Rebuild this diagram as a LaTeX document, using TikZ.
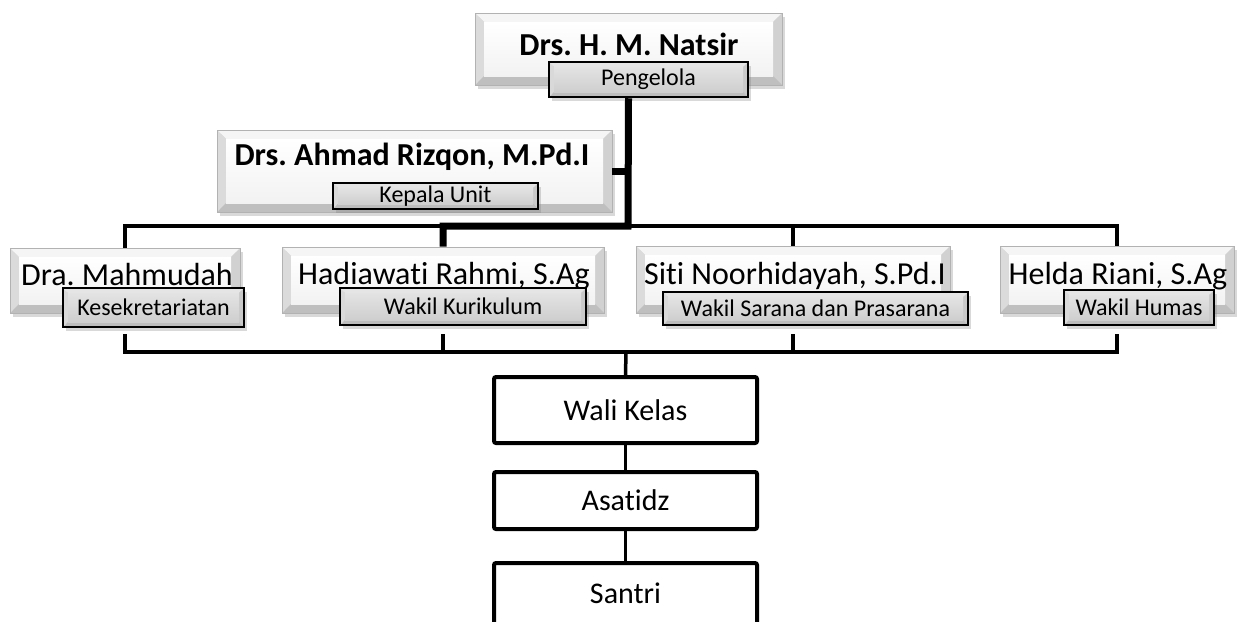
\documentclass[tikz,border=0pt]{standalone}
\usepackage{fontspec}
\setmainfont{Carlito}[Ligatures=NoCommon]
\usetikzlibrary{shadows}
\frenchspacing
\newcommand\namefont{\fontsize{32}{38}\selectfont}
\newcommand\headfont{\bfseries\fontsize{32}{38}\selectfont}
\newcommand\rolefont{\fontsize{24}{28}\selectfont}
\newcommand\stafffont{\fontsize{30}{36}\selectfont}
% bevelled faces: depth, top, left, right, bottom, inner top, inner bottom
\newcommand\bevelfaces[7]{%
  \coordinate (bnw) at (path picture bounding box.north west);
  \coordinate (bne) at (path picture bounding box.north east);
  \coordinate (bse) at (path picture bounding box.south east);
  \coordinate (bsw) at (path picture bounding box.south west);
  \coordinate (inw) at ([shift={(#1,-#1)}]bnw);
  \coordinate (ine) at ([shift={(-#1,-#1)}]bne);
  \coordinate (ise) at ([shift={(-#1,#1)}]bse);
  \coordinate (isw) at ([shift={(#1,#1)}]bsw);
  \fill[#2] (bnw) -- (bne) -- (ine) -- (inw) -- cycle;
  \fill[#3] (bnw) -- (bsw) -- (isw) -- (inw) -- cycle;
  \fill[#4] (bne) -- (bse) -- (ise) -- (ine) -- cycle;
  \fill[#5] (bsw) -- (bse) -- (ise) -- (isw) -- cycle;
  \shade[top color=#6, bottom color=#7] (inw) rectangle (ise);
}
\tikzset{
  namebox/.style={draw=gray!60, line width=0.6pt, inner sep=0pt,
    drop shadow={shadow xshift=3pt, shadow yshift=-4pt, opacity=0.3},
    path picture={\bevelfaces{9pt}{gray!8}{gray!28}{gray!36}{gray!50}{white}{gray!10}}},
  rolebox/.style={draw=black, line width=2.5pt, inner sep=0pt, font=\rolefont,
    drop shadow={shadow xshift=3pt, shadow yshift=-4pt, opacity=0.3},
    path picture={\bevelfaces{5pt}{gray!20}{gray!30}{gray!42}{gray!52}{gray!22}{gray!38}}},
  nametext/.style={anchor=base, font=\namefont, inner sep=0pt},
  headtext/.style={anchor=base, font=\headfont, inner sep=0pt},
  staffbox/.style={draw, line width=4pt, rounded corners=2pt, fill=white,
    font=\stafffont, minimum width=263pt},
  link/.style={line width=3.5pt},
  trunk/.style={line width=7pt}
}
\begin{document}
\begin{tikzpicture}[x=1pt, y=-1pt]
\useasboundingbox (0,0) rectangle (1244,621);
\clip (0,0) rectangle (1244,621);
% Pengelola
\node[namebox, minimum width=307pt, minimum height=72pt] (natsir) at (628.5,49) {};
\node[headtext] (natsirtxt) at (629,55) {Drs. H. M. Natsir};
\node[rolebox, minimum width=199pt, minimum height=35pt] (pengelola) at (648.5,79.5) {Pengelola};
% Kepala Unit
\node[namebox, minimum width=395pt, minimum height=82pt] (rizqon) at (414.5,171) {};
\node[headtext] (rizqontxt) at (412,165) {Drs. Ahmad Rizqon, M.Pd.I};
\node[rolebox, minimum width=205pt, minimum height=26pt] (kepala) at (435.5,196) {Kepala Unit};
% Wakil
\node[namebox, minimum width=230pt, minimum height=65pt] (mahmudah) at (125,280.5) {};
\node[nametext] (mahmudahtxt) at (127,285) {Dra. Mahmudah};
\node[rolebox, minimum width=181pt, minimum height=39pt] (sekretariat) at (153.5,307.5) {Kesekretariatan};
\node[namebox, minimum width=322pt, minimum height=66pt] (hadiawati) at (443,280) {};
\node[nametext] (hadiawatitxt) at (444,284) {Hadiawati Rahmi, S.Ag};
\node[rolebox, minimum width=246pt, minimum height=37pt] (kurikulum) at (463,306.5) {Wakil Kurikulum};
\node[namebox, minimum width=314pt, minimum height=67pt] (siti) at (793,279.5) {};
\node[nametext] (sititxt) at (795,284) {Siti Noorhidayah, S.Pd.I};
\node[rolebox, minimum width=305pt, minimum height=33pt] (sarana) at (815.5,308.5) {Wakil Sarana dan Prasarana};
\node[namebox, minimum width=234pt, minimum height=67pt] (helda) at (1117,279.5) {};
\node[nametext] (heldatxt) at (1118,284) {Helda Riani, S.Ag};
\node[rolebox, minimum width=150pt, minimum height=35pt] (humas) at (1139,307.5) {Wakil Humas};
% Staf
\node[staffbox, minimum height=66pt] (walikelas) at (625.5,410) {Wali Kelas};
\node[staffbox, minimum height=57pt] (asatidz) at (625.5,500.5) {Asatidz};
\node[staffbox, minimum height=80pt, text depth=20pt] (santri) at (625.5,603) {Santri};
% Connectors
\coordinate (bus) at (628,226);
\coordinate (lowbus) at (626,352);
\draw[link] (mahmudah.north) |- (bus -| helda.north) -- (helda.north);
\draw[link] (siti.north) -- (siti.north |- bus);
\draw[trunk] (pengelola.south -| natsir.center) -- (bus) -- (bus -| hadiawati.north) -- (hadiawati.north);
\draw[trunk] (rizqon.east) -- (rizqon.east -| natsir.center);
\draw[link] ([yshift=-6pt]sekretariat.south -| mahmudah.south) |- (lowbus -| helda.south) -- ([yshift=-8pt]humas.south -| helda.south);
\draw[link] ([yshift=-8pt]kurikulum.south -| hadiawati.south) -- (lowbus -| hadiawati.south);
\draw[link] ([yshift=-8pt]sarana.south -| siti.south) -- (lowbus -| siti.south);
\draw[link] (lowbus) -- (walikelas.north);
\draw[link] (walikelas.south) -- (asatidz.north);
\draw[link] (asatidz.south) -- (santri.north);
\end{tikzpicture}
\end{document}
